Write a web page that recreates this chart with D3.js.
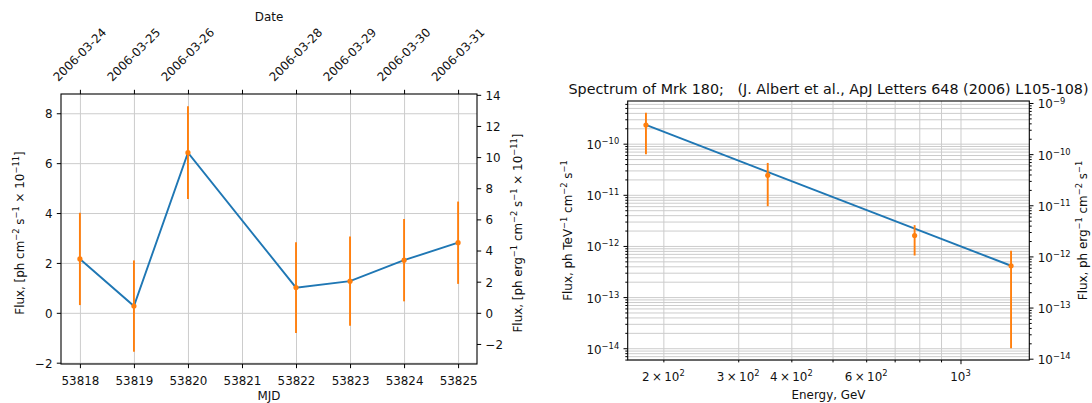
<!DOCTYPE html>
<meta charset="utf-8">
<script src="https://d3js.org/d3.v7.min.js"></script>
<style>
  body { margin: 0; background: #fff; }
  svg { font-family: "DejaVu Sans", sans-serif; }
  text { white-space: pre; }
</style>
<div id="chart"></div>
<script>
  // ---- light curve data ----
  const mjd = [53818, 53819, 53820, 53822, 53823, 53824, 53825];
  const flux = [2.16, 0.27, 6.42, 1.01, 1.27, 2.11, 2.81];
  const fluxErr = [1.85, 1.83, 1.86, 1.82, 1.79, 1.65, 1.65];
  const mjdTicks = [53818, 53819, 53820, 53821, 53822, 53823, 53824, 53825];
  const dateLabels = ["2006-03-24", "2006-03-25", "2006-03-26", "", "2006-03-28", "2006-03-29", "2006-03-30", "2006-03-31"];
  const fluxTicks = [-2, 0, 2, 4, 6, 8];
  const ergTicks = [-2, 0, 2, 4, 6, 8, 10, 12, 14];
  const tevToErg = 1.602;

  // ---- spectrum data ----
  const energy = [182, 352, 780, 1315];
  const specFlux = [2.32e-10, 2.4e-11, 1.6e-12, 4.1e-13];
  const specErr = [1.7e-10, 1.8e-11, 0.95e-12, 4.0e-13];
  const modelE = [182, 1315];
  const modelF = [2.32e-10, 4.1e-13];
  const energyTicks = [200, 300, 400, 600, 1000];
  const energyTickText = [["2\u2009×\u200910", "2"], ["3\u2009×\u200910", "2"], ["4\u2009×\u200910", "2"], ["6\u2009×\u200910", "2"], ["10", "3"]];

  const W = 1092, H = 403, FS = 11.9;
  const blue = "#1f77b4", orange = "#ff7f0e", gridColor = "#cccccc", ink = "#111";

  const svg = d3.select("#chart").append("svg")
    .attr("width", W).attr("height", H)
    .style("background", "#fff");

  // matplotlib-like 5% margins
  const padLin = ([lo, hi]) => [lo - 0.05 * (hi - lo), hi + 0.05 * (hi - lo)];
  const padLog = ([lo, hi]) => { const k = Math.pow(hi / lo, 0.05); return [lo / k, hi * k]; };
  const isPow10 = d => Math.abs(Math.log10(d) - Math.round(Math.log10(d))) < 1e-6;

  // text with superscripts: parts = [[string, isSup], ...]
  function rich(sel, parts, fs) {
    let up = false;
    parts.forEach(([s, sup]) => {
      const t = sel.append("tspan").text(s);
      if (sup) {
        t.attr("font-size", 0.7 * fs);
        if (!up) { t.attr("dy", -0.42 * fs); up = true; }
      } else if (up) {
        t.attr("dy", 0.42 * fs); up = false;
      }
    });
  }

  function styleAxis(g) {
    g.select(".domain").remove();
    g.attr("font-size", FS).attr("font-family", null);
    g.selectAll(".tick line").attr("stroke", "#000").attr("stroke-width", 1);
    g.selectAll(".tick text").attr("fill", ink);
  }

  function grid(g) {
    g.select(".domain").remove();
    g.selectAll(".tick text").remove();
    g.selectAll(".tick line").attr("stroke", gridColor).attr("stroke-width", 1);
  }

  // =================== light curve ===================
  const p1 = { l: 61, r: 477, t: 94, b: 364 };
  const x1 = d3.scaleLinear().domain(padLin(d3.extent(mjd))).range([p1.l, p1.r]);
  const lo1 = d3.min(flux, (f, i) => f - fluxErr[i]);
  const hi1 = d3.max(flux, (f, i) => f + fluxErr[i]);
  const y1 = d3.scaleLinear().domain(padLin([lo1, hi1])).range([p1.b, p1.t]);
  const y1r = d3.scaleLinear().domain(y1.domain().map(v => v * tevToErg)).range([p1.b, p1.t]);

  svg.append("g").attr("transform", `translate(0,${p1.b})`)
    .call(d3.axisBottom(x1).tickValues(mjdTicks).tickSize(-(p1.b - p1.t)).tickFormat(""))
    .call(grid);
  svg.append("g").attr("transform", `translate(${p1.l},0)`)
    .call(d3.axisLeft(y1).tickValues(fluxTicks).tickSize(-(p1.r - p1.l)).tickFormat(""))
    .call(grid);

  svg.append("path")
    .datum(d3.zip(mjd, flux))
    .attr("fill", "none").attr("stroke", blue).attr("stroke-width", 1.9)
    .attr("d", d3.line().x(d => x1(d[0])).y(d => y1(d[1])));

  svg.append("g").selectAll("line").data(mjd).join("line")
    .attr("x1", d => x1(d)).attr("x2", d => x1(d))
    .attr("y1", (d, i) => y1(flux[i] - fluxErr[i]))
    .attr("y2", (d, i) => y1(flux[i] + fluxErr[i]))
    .attr("stroke", orange).attr("stroke-width", 1.9);
  svg.append("g").selectAll("circle").data(mjd).join("circle")
    .attr("cx", d => x1(d)).attr("cy", (d, i) => y1(flux[i]))
    .attr("r", 2.6).attr("fill", orange);

  svg.append("rect").attr("x", p1.l).attr("y", p1.t)
    .attr("width", p1.r - p1.l).attr("height", p1.b - p1.t)
    .attr("fill", "none").attr("stroke", "#000").attr("stroke-width", 1.1);

  svg.append("g").attr("transform", `translate(0,${p1.b})`)
    .call(d3.axisBottom(x1).tickValues(mjdTicks).tickFormat(d3.format("d")).tickSize(4.2).tickSizeOuter(0))
    .call(styleAxis)
    .call(g => g.selectAll(".tick text").attr("y", 21).attr("dy", null));

  svg.append("g").attr("transform", `translate(${p1.l},0)`)
    .call(d3.axisLeft(y1).tickValues(fluxTicks).tickFormat(d3.format("d")).tickSize(4.2).tickSizeOuter(0))
    .call(styleAxis)
    .call(g => g.selectAll(".tick text").attr("x", -8.5).attr("dy", "0.37em"));

  svg.append("g").attr("transform", `translate(${p1.r},0)`)
    .call(d3.axisRight(y1r).tickValues(ergTicks).tickFormat(d3.format("d")).tickSize(4.2).tickSizeOuter(0))
    .call(styleAxis)
    .call(g => g.selectAll(".tick text").attr("x", 8.5).attr("dy", "0.37em"));

  svg.append("g").attr("transform", `translate(0,${p1.t})`)
    .call(d3.axisTop(x1).tickValues(mjdTicks).tickFormat((d, i) => dateLabels[i]).tickSize(4.2).tickSizeOuter(0))
    .call(styleAxis)
    .call(g => g.selectAll(".tick text").each(function () {
      const t = d3.select(this).attr("x", 0).attr("dy", null).attr("text-anchor", "middle");
      const w = this.getComputedTextLength(), h = 0.99 * FS;
      const half = (w + h) * Math.SQRT1_2 / 2;
      t.attr("y", 0.265 * FS).attr("transform", `translate(0,${-10 - half}) rotate(-45)`);
    }));

  svg.append("text").attr("x", (p1.l + p1.r) / 2).attr("y", 21)
    .attr("text-anchor", "middle").attr("font-size", FS).attr("fill", ink).text("Date");
  svg.append("text").attr("x", (p1.l + p1.r) / 2).attr("y", 400)
    .attr("text-anchor", "middle").attr("font-size", FS).attr("fill", ink).text("MJD");

  rich(svg.append("text").attr("transform", `translate(23.5,233) rotate(-90)`)
    .attr("text-anchor", "middle").attr("font-size", FS).attr("fill", ink),
    [["Flux, [ph cm", 0], ["−2", 1], [" s", 0], ["−1", 1], [" × 10", 0], ["−11", 1], ["]", 0]], FS);
  rich(svg.append("text").attr("transform", `translate(521.5,233) rotate(-90)`)
    .attr("text-anchor", "middle").attr("font-size", FS).attr("fill", ink),
    [["Flux, [ph erg", 0], ["−1", 1], [" cm", 0], ["−2", 1], [" s", 0], ["−1", 1], [" × 10", 0], ["−11", 1], ["]", 0]], FS);

  // =================== spectrum ===================
  const p2 = { l: 627.7, r: 1029.3, t: 101, b: 360 };
  const x2 = d3.scaleLog().domain(padLog(d3.extent(energy))).range([p2.l, p2.r]);
  const lo2 = d3.min(specFlux, (f, i) => f - specErr[i]);
  const hi2 = d3.max(specFlux, (f, i) => f + specErr[i]);
  const y2 = d3.scaleLog().domain(padLog([lo2, hi2])).range([p2.b, p2.t]);
  const y2r = d3.scaleLog().domain(y2.domain().map(v => v * tevToErg)).range([p2.b, p2.t]);

  const xAll = x2.ticks();
  const yAll = y2.ticks();
  const yrAll = y2r.ticks();

  svg.append("g").attr("transform", `translate(0,${p2.b})`)
    .call(d3.axisBottom(x2).tickValues(xAll).tickSize(-(p2.b - p2.t)).tickFormat(""))
    .call(grid);
  svg.append("g").attr("transform", `translate(${p2.l},0)`)
    .call(d3.axisLeft(y2).tickValues(yAll).tickSize(-(p2.r - p2.l)).tickFormat(""))
    .call(grid);

  svg.append("path")
    .datum(d3.zip(modelE, modelF))
    .attr("fill", "none").attr("stroke", blue).attr("stroke-width", 1.9)
    .attr("d", d3.line().x(d => x2(d[0])).y(d => y2(d[1])));

  svg.append("g").selectAll("line").data(energy).join("line")
    .attr("x1", d => x2(d)).attr("x2", d => x2(d))
    .attr("y1", (d, i) => y2(specFlux[i] - specErr[i]))
    .attr("y2", (d, i) => y2(specFlux[i] + specErr[i]))
    .attr("stroke", orange).attr("stroke-width", 1.9);
  svg.append("g").selectAll("circle").data(energy).join("circle")
    .attr("cx", d => x2(d)).attr("cy", (d, i) => y2(specFlux[i]))
    .attr("r", 2.6).attr("fill", orange);

  svg.append("rect").attr("x", p2.l).attr("y", p2.t)
    .attr("width", p2.r - p2.l).attr("height", p2.b - p2.t)
    .attr("fill", "none").attr("stroke", "#000").attr("stroke-width", 1.1);

  // x: minor ticks, then labelled ones
  svg.append("g").attr("transform", `translate(0,${p2.b})`)
    .call(d3.axisBottom(x2).tickValues(xAll.filter(d => !isPow10(d))).tickSize(2.4).tickFormat(""))
    .call(styleAxis);
  svg.append("g").attr("transform", `translate(0,${p2.b})`)
    .call(d3.axisBottom(x2).tickValues(xAll.filter(isPow10)).tickSize(4.2).tickFormat(""))
    .call(styleAxis);
  svg.append("g").selectAll("text").data(energyTicks).join("text")
    .attr("x", d => x2(d)).attr("y", p2.b + 21)
    .attr("text-anchor", "middle").attr("font-size", FS).attr("fill", ink)
    .each(function (d, i) { rich(d3.select(this), [[energyTickText[i][0], 0], [energyTickText[i][1], 1]], FS); });

  function logAxis(axisFn, scale, all, x, side) {
    svg.append("g").attr("transform", `translate(${x},0)`)
      .call(axisFn(scale).tickValues(all.filter(d => !isPow10(d))).tickSize(2.4).tickFormat(""))
      .call(styleAxis);
    svg.append("g").attr("transform", `translate(${x},0)`)
      .call(axisFn(scale).tickValues(all.filter(isPow10)).tickSize(4.2).tickFormat(""))
      .call(styleAxis)
      .call(g => g.selectAll(".tick text").each(function (d) {
        const t = d3.select(this).text(null)
          .attr("x", side * 8.5).attr("dy", null).attr("y", 5)
          .attr("text-anchor", side < 0 ? "end" : "start");
        rich(t, [["10", 0], ["−" + Math.abs(Math.round(Math.log10(d))), 1]], FS);
      }));
  }
  logAxis(d3.axisLeft, y2, yAll, p2.l, -1);
  logAxis(d3.axisRight, y2r, yrAll, p2.r, 1);

  svg.append("text").attr("x", (p2.l + p2.r) / 2).attr("y", 94)
    .attr("text-anchor", "middle").attr("font-size", 14.3).attr("fill", ink)
    .text("Spectrum of Mrk 180;   (J. Albert et al., ApJ Letters 648 (2006) L105-108)");
  svg.append("text").attr("x", (p2.l + p2.r) / 2).attr("y", 398.5)
    .attr("text-anchor", "middle").attr("font-size", FS).attr("fill", ink).text("Energy, GeV");

  rich(svg.append("text").attr("transform", `translate(572,${(p2.t + p2.b) / 2}) rotate(-90)`)
    .attr("text-anchor", "middle").attr("font-size", FS).attr("fill", ink),
    [["Flux, ph TeV", 0], ["−1", 1], [" cm", 0], ["−2", 1], [" s", 0], ["−1", 1]], FS);
  rich(svg.append("text").attr("transform", `translate(1087,${(p2.t + p2.b) / 2}) rotate(-90)`)
    .attr("text-anchor", "middle").attr("font-size", FS).attr("fill", ink),
    [["Flux, ph erg", 0], ["−1", 1], [" cm", 0], ["−2", 1], [" s", 0], ["−1", 1]], FS);
</script>
